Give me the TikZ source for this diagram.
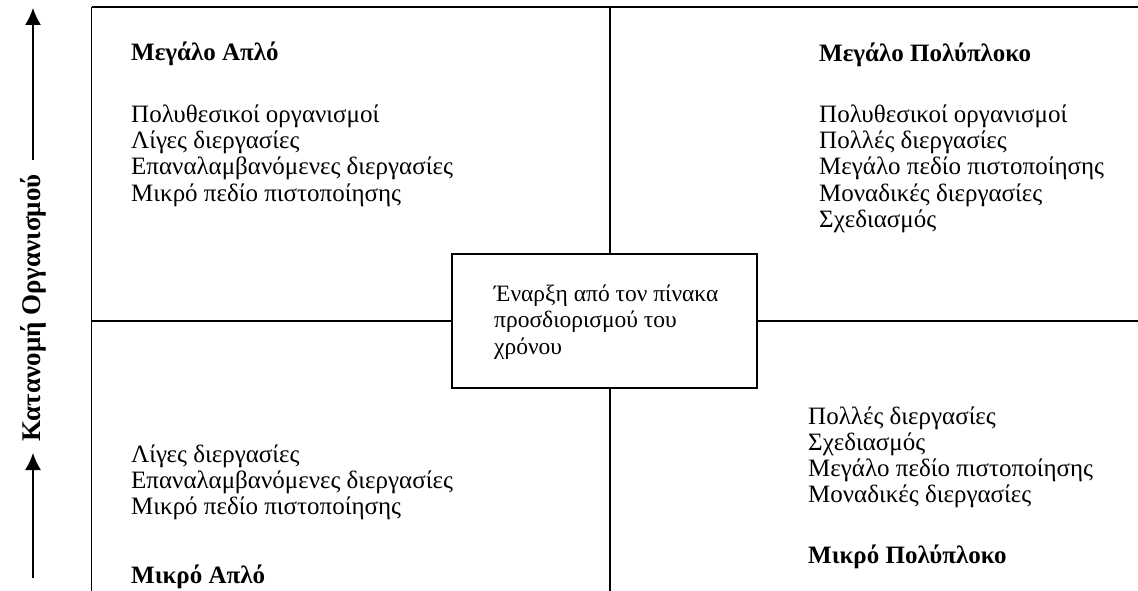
\documentclass[tikz,border=0pt]{standalone}
\usepackage{fontspec}
\setmainfont{Liberation Serif}
\usetikzlibrary{arrows.meta}
\tikzset{
  cell/.style={anchor=base west, inner sep=0pt, font=\fontsize{25}{26}\selectfont},
  celltitle/.style={cell, font=\fontsize{25}{26}\selectfont\bfseries},
  frame/.style={line width=1.5pt},
  axisarrow/.style={line width=1.5pt, -{Latex[length=17pt,width=16pt]}}
}
\begin{document}
\begin{tikzpicture}[x=1pt,y=-1pt]
  \useasboundingbox (0,0) rectangle (1138,591);
  % grid of the four fields
  \coordinate (topleft) at (91.5,7);
  \coordinate (topright) at (1138,7);
  \coordinate (botleft) at (91.5,591);
  \coordinate (midtop) at (610,7);
  \coordinate (midbot) at (610,591);
  \coordinate (midleft) at (91.5,321);
  \coordinate (midright) at (1138,321);
  \draw[frame](topleft)--(topright);
  \draw[frame](topleft)--(botleft);
  \draw[frame](midtop)--(midbot);
  \draw[frame](midleft)--(midright);
  % start box in the middle
  \node[frame, draw, fill=white, minimum width=305, minimum height=134, inner sep=0pt] (start) at (604.5,321) {};
  \node[anchor=west, inner sep=0pt, align=left, font=\fontsize{23.5}{26.5}\selectfont] (starttext) at (494,322)
    {Έναρξη από τον πίνακα\\προσδιορισμού του\\χρόνου};
  % upper left
  \node[celltitle] (bigsimple) at (131,61) {Μεγάλο Απλό};
  \foreach \t [count=\i] in {Πολυθεσικοί οργανισμοί, Λίγες διεργασίες, Επαναλαμβανόμενες διεργασίες, Μικρό πεδίο πιστοποίησης}
    \node[cell] (bs\i) at (131,{123+26*(\i-1)}) {\t};
  % upper right
  \node[celltitle] (bigcomplex) at (819,62) {Μεγάλο Πολύπλοκο};
  \foreach \t [count=\i] in {Πολυθεσικοί οργανισμοί, Πολλές διεργασίες, Μεγάλο πεδίο πιστοποίησης, Μοναδικές διεργασίες, Σχεδιασμός}
    \node[cell] (bc\i) at (819,{123+26*(\i-1)}) {\t};
  % lower left
  \foreach \t [count=\i] in {Λίγες διεργασίες, Επαναλαμβανόμενες διεργασίες, Μικρό πεδίο πιστοποίησης}
    \node[cell] (ss\i) at (131,{462+26*(\i-1)}) {\t};
  \node[celltitle] (smallsimple) at (131,583) {Μικρό Απλό};
  % lower right
  \foreach \t [count=\i] in {Πολλές διεργασίες, Σχεδιασμός, Μεγάλο πεδίο πιστοποίησης, Μοναδικές διεργασίες}
    \node[cell] (sc\i) at (808,{424+26*(\i-1)}) {\t};
  \node[celltitle] (smallcomplex) at (808,563) {Μικρό Πολύπλοκο};
  % vertical axis
  \node[rotate=90, inner sep=0pt, font=\fontsize{27}{30}\selectfont\bfseries] (axislabel) at (33,308) {Κατανομή Οργανισμού};
  \coordinate (upfoot) at (33,160);
  \coordinate (uptip) at (33,8);
  \coordinate (lowfoot) at (33,578);
  \coordinate (lowtip) at (33,453);
  \draw[axisarrow](upfoot)--(uptip);
  \draw[axisarrow](lowfoot)--(lowtip);
\end{tikzpicture}
\end{document}
